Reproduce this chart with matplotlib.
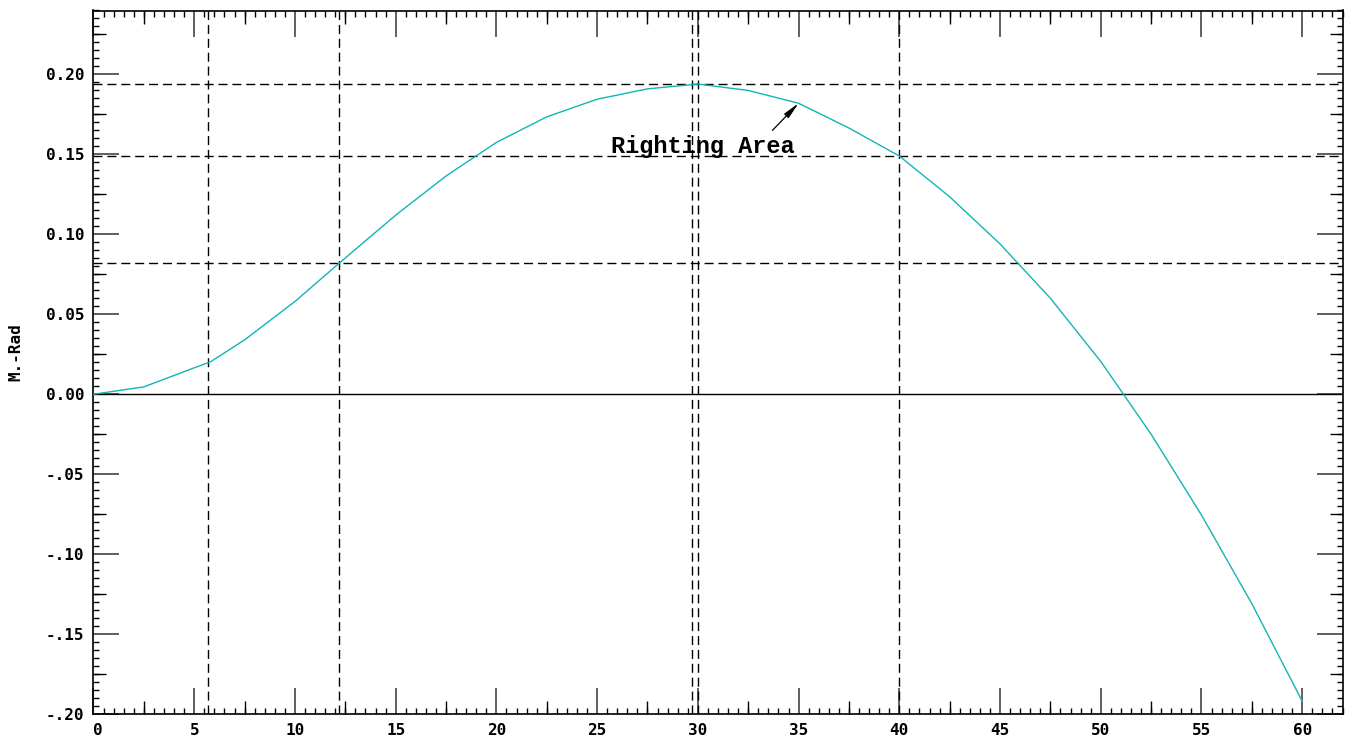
import numpy as np
import matplotlib
matplotlib.use("Agg")
import matplotlib.pyplot as plt
from matplotlib.ticker import MultipleLocator, FixedLocator, FixedFormatter
from matplotlib.font_manager import FontProperties

# ---- data ----
heel_angle = [0, 2.5, 5, 5.8, 7.5, 10, 12.2, 15, 17.5, 20, 22.5, 25, 27.5, 30,
              32.5, 35, 37.5, 40, 42.5, 45, 47.5, 50, 52.5, 55, 57.5, 60]
righting_arm = [0.0, 0.0046, 0.0165, 0.0202, 0.034, 0.058, 0.082, 0.112, 0.1365,
                0.1575, 0.1735, 0.1845, 0.191, 0.194, 0.190, 0.182, 0.1665, 0.149,
                0.1235, 0.094, 0.060, 0.0205, -0.025, -0.0756, -0.131, -0.192]

vlines_x = [5.7, 12.2, 29.7, 30.0, 40.0]
hlines_y = [0.194, 0.149, 0.082]

xtick_values = [0, 5, 10, 15, 20, 25, 30, 35, 40, 45, 50, 55, 60]
xtick_labels = ["0", "5", "10", "15", "20", "25", "30", "35", "40", "45", "50", "55", "60"]
ytick_values = [-0.20, -0.15, -0.10, -0.05, 0.0, 0.05, 0.10, 0.15, 0.20]
ytick_labels = ["-.20", "-.15", "-.10", "-.05", "0.00", "0.05", "0.10", "0.15", "0.20"]

y_label = "M.-Rad"
annot_text = "Righting Area"
annot_xy = (35.0, 0.182)
annot_text_xy = (30.25, 0.155)
arrow_tail = (33.7, 0.165)

XLIM = (0, 62)
YLIM = (-0.20, 0.24)

# ---- figure ----
W, H, DPI = 1348, 737, 100
fig = plt.figure(figsize=(W / DPI, H / DPI), dpi=DPI)
pos = [93.5 / W, 1 - 714 / H, (1342.5 - 93.5) / W, (714 - 10.5) / H]
ax = fig.add_axes(pos)

ax.plot(heel_angle, righting_arm, color="#14b4b4", lw=1.0, zorder=3)

dash = (0, (6.5, 3.5))
for xv in vlines_x:
    ax.axvline(xv, color="black", lw=1.0, linestyle=dash, zorder=2)
for yv in hlines_y:
    ax.axhline(yv, color="black", lw=1.0, linestyle=dash, zorder=2)
ax.axhline(0.0, color="black", lw=1.0, zorder=2)

ax.set_xlim(*XLIM)
ax.set_ylim(*YLIM)

ax.xaxis.set_major_locator(FixedLocator(xtick_values))
ax.xaxis.set_major_formatter(FixedFormatter(xtick_labels))
ax.xaxis.set_minor_locator(MultipleLocator(0.5))
ax.yaxis.set_major_locator(FixedLocator(ytick_values))
ax.yaxis.set_major_formatter(FixedFormatter(ytick_labels))
ax.yaxis.set_minor_locator(MultipleLocator(0.005))

tick_fp = FontProperties(family="DejaVu Sans Mono", weight="bold", size=11.5)
ax.tick_params(which="major", direction="in", length=18.7, width=1.2, color="#444444",
               top=True, right=True, pad=6.5)
ax.tick_params(which="minor", direction="in", length=4.3, width=1.0, color="black",
               top=True, right=True)
for lab in ax.get_xticklabels() + ax.get_yticklabels():
    lab.set_fontproperties(tick_fp)
ax.get_xticklabels()[0].set_horizontalalignment("left")

for sp in ax.spines.values():
    sp.set_linewidth(1.2)
    sp.set_color("black")

ax.set_ylabel(y_label, fontfamily="DejaVu Sans Mono", fontweight="bold", fontsize=11.5)
ax.yaxis.set_label_coords(-0.056, 0.515)

# medium ticks (every 2.5 on x, every 0.025 on y) on an overlay axes
axm = fig.add_axes(pos, frameon=False)
axm.set_xlim(*XLIM)
axm.set_ylim(*YLIM)
axm.set_xticks(np.arange(2.5, XLIM[1], 5.0))
axm.set_yticks(np.arange(-0.175, YLIM[1], 0.05))
axm.tick_params(direction="in", length=9.4, width=1.0, color="black",
                top=True, right=True, bottom=True, left=True,
                labelbottom=False, labelleft=False)
axm.patch.set_alpha(0)
axm.set_zorder(ax.get_zorder() + 1)

ax.text(annot_text_xy[0], annot_text_xy[1], annot_text, ha="center", va="center",
        fontfamily="Liberation Mono", fontweight="bold", fontsize=17, zorder=5)
ax.annotate("", xy=annot_xy, xytext=arrow_tail,
            arrowprops=dict(arrowstyle="-|>,head_length=1.0,head_width=0.18",
                            color="black", lw=0.9, shrinkA=0, shrinkB=0), zorder=5)

fig.savefig("out.png", dpi=DPI)
